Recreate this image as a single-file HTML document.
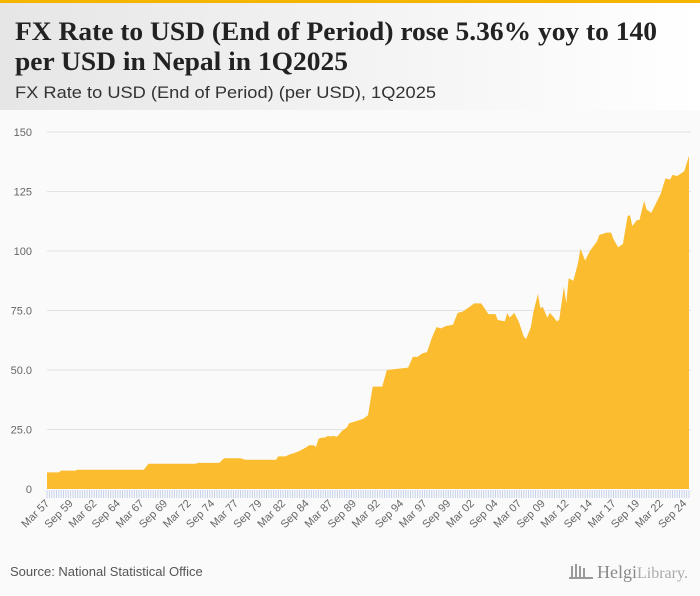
<!DOCTYPE html>
<html><head><meta charset="utf-8"><style>
body{margin:0;background:#fafafa}
svg{display:block;font-family:"Liberation Sans",sans-serif}
</style></head><body>
<svg id="chart" width="700" height="596" viewBox="0 0 700 596">
<defs><linearGradient id="hg" x1="0" x2="1" y1="0" y2="0"><stop offset="0" stop-color="#e6e6e6"/><stop offset="1" stop-color="#ffffff"/></linearGradient></defs>
<rect width="700" height="596" fill="#fafafa"/>
<rect width="700" height="110" fill="url(#hg)"/>
<rect width="700" height="3" fill="#f5b400"/>
<text x="15" y="40" font-family="Liberation Serif,serif" font-weight="bold" font-size="26" fill="#222" textLength="642" lengthAdjust="spacingAndGlyphs">FX Rate to USD (End of Period) rose 5.36% yoy to 140</text>
<text x="15" y="70" font-family="Liberation Serif,serif" font-weight="bold" font-size="26" fill="#222" textLength="333" lengthAdjust="spacingAndGlyphs">per USD in Nepal in 1Q2025</text>
<text x="15" y="98" font-size="17" fill="#333" textLength="421" lengthAdjust="spacingAndGlyphs">FX Rate to USD (End of Period) (per USD), 1Q2025</text>
<g id="grid"></g><g id="area"></g><g id="xaxis"></g>
<text x="10" y="576" font-size="13" fill="#555">Source: National Statistical Office</text>
<g>
<g fill="#999"><rect x="571" y="566" width="2" height="12"/><rect x="575" y="564" width="2" height="14"/><rect x="579" y="566" width="2" height="12"/><rect x="583" y="568" width="2" height="10"/><rect x="569" y="577" width="24" height="2"/></g>
<text x="597" y="578" font-family="Liberation Serif,serif" font-size="18" fill="#888">Helgi<tspan font-size="16" fill="#aaa">Library.</tspan></text>
</g>
</svg>
<script>
const yTicks=[0,25,50,75,100,125,150];
const yTickLabels=["0","25.0","50.0","75.0","100","125","150"];
const quarters=[0,5,6,12,13,41,43,63,64,73,75,82,84,97,98,101,103,105,107,110,111,113,114,115,116,118,119,120,121,123,125,127,128,131,134,136,138,142,144,153,155,157,159,161,163,165,167,169,172,174,176,179,181,184,187,190,191,194,195,196,198,200,202,203,205,206,208,209,210,212,213,214,216,217,219,220,221,223,225,226,228,230,233,234,237,239,240,242,244,246,247,248,250,251,253,254,256,258,260,262,264,265,267,270,272];
const values=[7.0,7.0,7.7,7.7,8.1,8.1,10.6,10.6,11.0,11.0,12.9,12.9,12.3,12.3,13.7,13.7,14.6,15.2,16.0,17.6,18.4,18.4,17.7,21.0,21.5,21.7,22.3,22.0,22.3,22.0,24.5,25.8,27.6,28.5,29.5,31,43,43,50,51,55.5,55.5,57,57.5,63.4,68,67.5,68.5,69,74,74.5,76.5,78,78,73.5,73.5,71,70.5,74,72,74,70,64,63,68,74,82,76,76.5,72,74,73,70.5,71,85,78,88.5,87.5,95,101,96,100,104,106.7,107.7,107.7,105,101.5,103,114.7,115,110.5,113,113,121,117.5,116,120,124,130.5,130,132,131.5,133.5,140];
const xLabels=["Mar 57","Sep 59","Mar 62","Sep 64","Mar 67","Sep 69","Mar 72","Sep 74","Mar 77","Sep 79","Mar 82","Sep 84","Mar 87","Sep 89","Mar 92","Sep 94","Mar 97","Sep 99","Mar 02","Sep 04","Mar 07","Sep 09","Mar 12","Sep 14","Mar 17","Sep 19","Mar 22","Sep 24"];
const nQ=273;
const X0=47,X1=689,Y0=489,Y1=132,YMAX=150;
const xs=q=>X0+q*(X1-X0)/(nQ-1);
const ys=v=>Y0-v*(Y0-Y1)/YMAX;
const NS="http://www.w3.org/2000/svg";
function mk(t,a){const e=document.createElementNS(NS,t);for(const k in a)e.setAttribute(k,a[k]);return e;}
const grid=document.getElementById('grid');
yTicks.forEach((v,i)=>{
  if(v>0){const l=mk('line',{x1:X0,x2:X1+2,y1:ys(v),y2:ys(v),stroke:'#e3e3e3','stroke-width':1});
  
  
  grid.appendChild(l);}
  const t=mk('text',{x:32,y:ys(v)+4,'text-anchor':'end','font-size':11,fill:'#666'});
  t.textContent=yTickLabels[i];
  
  
  grid.appendChild(t);
});
let d='M'+xs(quarters[0])+','+Y0;
quarters.forEach((q,i)=>{d+=' L'+xs(q).toFixed(2)+','+ys(values[i]).toFixed(2);});
d+=' L'+xs(quarters[quarters.length-1])+','+Y0+' Z';
const p=mk('path',{d:d,fill:'#fbbc2f'});


document.getElementById('area').appendChild(p);
const xa=document.getElementById('xaxis');
for(let q=0;q<nQ;q++){
  const l=mk('line',{x1:xs(q),x2:xs(q),y1:Y0+1,y2:Y0+9,stroke:'#c5d1ea','stroke-width':1});
  
  
  xa.appendChild(l);
}
xLabels.forEach((s,i)=>{
  const x=xs(i*10)+3,y=Y0+15;
  const t=mk('text',{x:x,y:y,'text-anchor':'end','font-size':11,fill:'#666',transform:'rotate(-45 '+x+' '+y+')'});
  t.textContent=s;
  
  
  xa.appendChild(t);
});
</script>
</body></html>
